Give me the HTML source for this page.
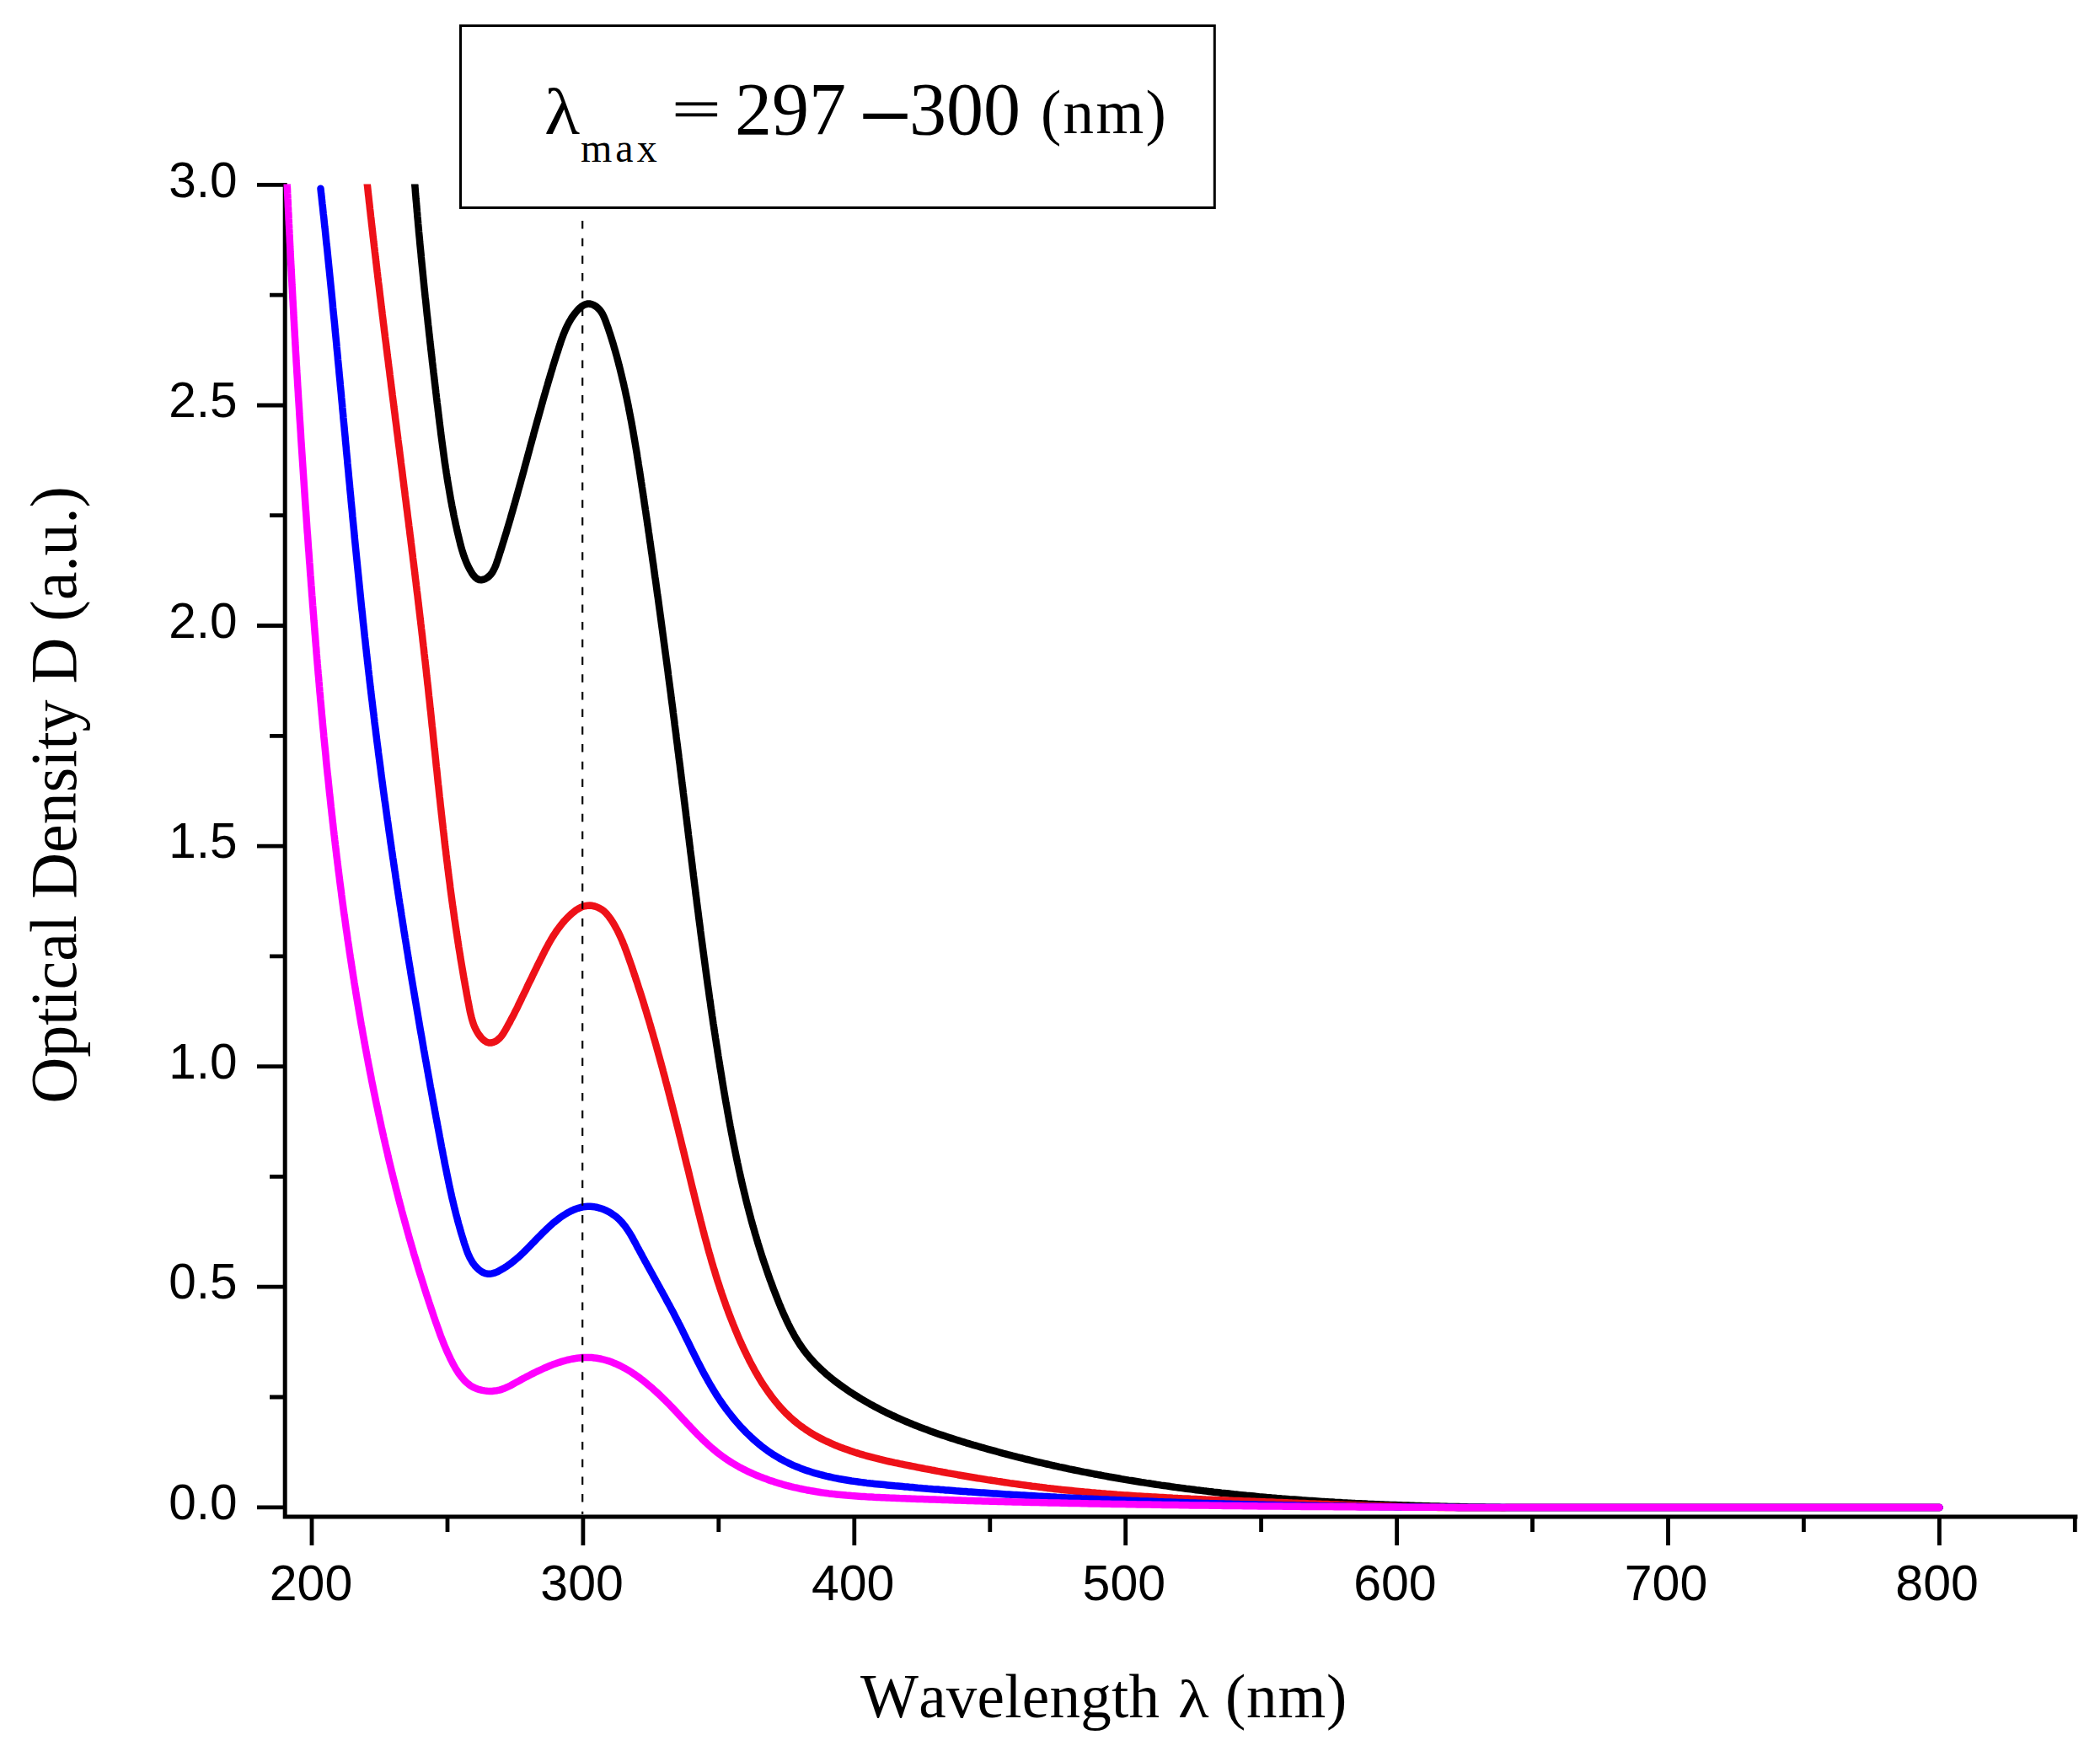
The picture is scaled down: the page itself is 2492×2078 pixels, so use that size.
<!DOCTYPE html>
<html lang="en"><head><meta charset="utf-8"><title>UV-Vis absorption spectra</title>
<style>html,body{margin:0;padding:0;background:#fff}svg{display:block}</style></head>
<body>
<svg role="img" aria-label="UV-Vis absorption spectra, optical density versus wavelength" width="2492" height="2078" viewBox="0 0 2492 2078">
<defs><clipPath id="c"><rect x="330" y="218.5" width="1980" height="1600"/></clipPath></defs>
<rect width="2492" height="2078" fill="#fff"/>
<g stroke="#000" fill="none">
<path d="M338.2 217V1802.5M336 1800H2465.4" stroke-width="5"/>
<path d="M305 219.4H338M320 350.2H338M305 481.0H338M320 611.7H338M305 742.5H338M320 873.3H338M305 1004.1H338M320 1134.9H338M305 1265.6H338M320 1396.4H338M305 1527.2H338M320 1658.0H338M305 1788.8H338M370.0 1800V1834M531.0 1800V1818M691.9 1800V1834M852.8 1800V1818M1013.8 1800V1834M1174.8 1800V1818M1335.7 1800V1834M1496.6 1800V1818M1657.6 1800V1834M1818.5 1800V1818M1979.5 1800V1834M2140.4 1800V1818M2301.4 1800V1834M2462.3 1800V1818" stroke-width="4.8"/>
</g>
<path d="M491.2 206.2L491.5 209.2L491.7 212.2L491.9 215.2L492.2 218.2L492.4 221.2L492.7 224.2L492.9 227.2L493.1 230.2L493.4 233.2L493.6 236.2L493.9 239.2L494.2 242.2L494.4 245.2L494.7 248.1L494.9 251.1L495.2 254.1L495.4 257.1L495.7 260.1L496 263.1L496.2 266.1L496.5 269.1L496.8 272.1L497 275.1L497.3 278L497.6 281L497.9 284L498.1 287L498.4 290L498.7 293L499 296L499.3 299L499.6 301.9L499.8 304.9L500.1 307.9L500.4 310.9L500.7 313.9L501 316.9L501.3 319.9L501.6 322.8L501.9 325.8L502.2 328.8L502.5 331.8L502.8 334.8L503.1 337.8L503.4 340.8L503.7 343.7L504 346.7L504.3 349.7L504.6 352.7L505 355.7L505.3 358.7L505.6 361.6L505.9 364.6L506.2 367.6L506.5 370.6L506.8 373.6L507.2 376.6L507.5 379.5L507.8 382.5L508.1 385.5L508.5 388.5L508.8 391.5L509.1 394.5L509.4 397.4L509.8 400.4L510.1 403.4L510.4 406.4L510.8 409.4L511.1 412.3L511.4 415.3L511.8 418.3L512.1 421.3L512.5 424.3L512.8 427.3L513.1 430.2L513.5 433.2L513.8 436.2L514.2 439.2L514.5 442.2L514.9 445.2L515.2 448.1L515.6 451.1L515.9 454.1L516.3 457.1L516.6 460.1L517 463L517.3 466L517.7 469L518 472L518.4 475L518.7 478L519.1 480.9L519.5 483.9L519.8 486.9L520.2 489.9L520.5 492.9L520.9 495.9L521.3 498.8L521.6 501.8L522 504.8L522.4 507.8L522.8 510.8L523.1 513.8L523.5 516.7L523.9 519.7L524.3 522.7L524.7 525.7L525.1 528.7L525.5 531.6L525.9 534.6L526.3 537.6L526.7 540.6L527.1 543.5L527.5 546.5L527.9 549.5L528.4 552.5L528.8 555.4L529.3 558.4L529.7 561.4L530.2 564.3L530.6 567.3L531.1 570.2L531.6 573.2L532.1 576.2L532.6 579.1L533.1 582.1L533.6 585L534.1 588L534.6 590.9L535.1 593.9L535.7 596.8L536.2 599.8L536.8 602.7L537.4 605.6L538 608.6L538.5 611.5L539.1 614.4L539.8 617.4L540.4 620.3L541 623.2L541.7 626.1L542.3 629L543 631.9L543.7 634.9L544.4 637.8L545.1 640.7L545.8 643.6L546.5 646.5L547.3 649.4L548.1 652.2L549 655.1L549.9 658L550.9 660.9L552 663.7L553.1 666.6L554.3 669.4L555.7 672.3L557.1 675.1L558.7 677.9L560.4 680.7L562.2 683.2L564.2 685.4L566.4 687L568.7 688L571.1 688.2L573.6 687.8L576 686.8L578.4 685.4L580.6 683.6L582.6 681.5L584.3 679.2L585.7 676.7L587 674L588.2 671.3L589.2 668.4L590.2 665.5L591.2 662.6L592.1 659.7L593 656.7L594 653.8L594.9 650.9L595.8 648L596.7 645.1L597.6 642.2L598.5 639.2L599.4 636.3L600.3 633.4L601.2 630.5L602 627.6L602.9 624.7L603.8 621.8L604.6 618.9L605.5 616L606.3 613.1L607.1 610.2L608 607.3L608.8 604.4L609.6 601.5L610.5 598.6L611.3 595.7L612.1 592.8L612.9 589.9L613.7 587L614.5 584.1L615.3 581.2L616.1 578.4L616.9 575.5L617.7 572.6L618.5 569.7L619.3 566.8L620.1 563.9L620.9 561L621.7 558.2L622.4 555.3L623.2 552.4L624 549.5L624.8 546.6L625.6 543.7L626.3 540.9L627.1 538L627.9 535.1L628.7 532.2L629.4 529.3L630.2 526.5L631 523.6L631.8 520.7L632.6 517.8L633.3 514.9L634.1 512.1L634.9 509.2L635.7 506.3L636.5 503.4L637.3 500.5L638.1 497.7L638.9 494.8L639.7 491.9L640.5 489L641.3 486.2L642.1 483.3L642.9 480.4L643.7 477.5L644.5 474.7L645.3 471.8L646.1 468.9L647 466L647.8 463.1L648.6 460.3L649.5 457.4L650.3 454.5L651.2 451.6L652 448.7L652.9 445.9L653.7 443L654.6 440.1L655.5 437.2L656.3 434.3L657.2 431.5L658.1 428.6L659 425.7L659.9 422.8L660.8 419.9L661.8 417L662.7 414.2L663.6 411.3L664.6 408.4L665.5 405.5L666.5 402.6L667.6 399.8L668.6 397L669.8 394.2L670.9 391.4L672.2 388.6L673.5 385.9L674.9 383.2L676.4 380.6L677.9 378L679.6 375.5L681.4 373L683.3 370.6L685.3 368.2L687.4 366L689.6 364.1L692 362.5L694.4 361.3L696.9 360.6L699.5 360.5L702.2 361.1L704.8 362.2L707.4 363.7L709.7 365.7L711.9 368L713.7 370.5L715.3 373.2L716.6 376L717.8 378.8L718.9 381.7L719.9 384.6L721 387.5L722 390.4L722.9 393.2L723.9 396.1L724.8 399L725.7 401.8L726.6 404.7L727.5 407.6L728.3 410.4L729.1 413.3L730 416.2L730.8 419.1L731.6 421.9L732.4 424.8L733.1 427.7L733.9 430.6L734.6 433.5L735.4 436.4L736.1 439.3L736.8 442.2L737.5 445.1L738.2 448L738.9 450.9L739.6 453.8L740.3 456.8L740.9 459.7L741.6 462.6L742.2 465.5L742.8 468.5L743.5 471.4L744.1 474.3L744.7 477.3L745.3 480.2L745.9 483.1L746.4 486.1L747 489L747.6 492L748.1 494.9L748.7 497.8L749.3 500.8L749.8 503.7L750.3 506.7L750.9 509.7L751.4 512.6L751.9 515.6L752.4 518.5L752.9 521.5L753.4 524.4L753.9 527.4L754.4 530.4L754.9 533.3L755.4 536.3L755.9 539.3L756.3 542.2L756.8 545.2L757.3 548.2L757.7 551.1L758.2 554.1L758.7 557.1L759.1 560L759.6 563L760 566L760.5 569L760.9 571.9L761.4 574.9L761.8 577.9L762.3 580.9L762.7 583.8L763.2 586.8L763.6 589.8L764.1 592.7L764.5 595.7L764.9 598.7L765.4 601.7L765.8 604.6L766.3 607.6L766.7 610.6L767.1 613.5L767.6 616.5L768 619.5L768.4 622.5L768.9 625.4L769.3 628.4L769.7 631.4L770.2 634.4L770.6 637.3L771 640.3L771.4 643.3L771.9 646.2L772.3 649.2L772.7 652.2L773.1 655.2L773.6 658.1L774 661.1L774.4 664.1L774.8 667L775.3 670L775.7 673L776.1 676L776.5 678.9L776.9 681.9L777.3 684.9L777.8 687.9L778.2 690.8L778.6 693.8L779 696.8L779.4 699.7L779.8 702.7L780.2 705.7L780.7 708.7L781.1 711.6L781.5 714.6L781.9 717.6L782.3 720.6L782.7 723.5L783.1 726.5L783.5 729.5L783.9 732.4L784.3 735.4L784.7 738.4L785.1 741.4L785.5 744.3L785.9 747.3L786.3 750.3L786.7 753.3L787.1 756.2L787.5 759.2L787.9 762.2L788.3 765.1L788.7 768.1L789.1 771.1L789.5 774.1L789.9 777L790.3 780L790.7 783L791.1 786L791.5 788.9L791.9 791.9L792.3 794.9L792.7 797.9L793 800.8L793.4 803.8L793.8 806.8L794.2 809.8L794.6 812.7L795 815.7L795.4 818.7L795.8 821.7L796.2 824.6L796.5 827.6L796.9 830.6L797.3 833.6L797.7 836.5L798.1 839.5L798.5 842.5L798.8 845.5L799.2 848.4L799.6 851.4L800 854.4L800.4 857.4L800.7 860.3L801.1 863.3L801.5 866.3L801.9 869.3L802.3 872.2L802.6 875.2L803 878.2L803.4 881.2L803.8 884.1L804.1 887.1L804.5 890.1L804.9 893.1L805.3 896L805.6 899L806 902L806.4 905L806.8 907.9L807.1 910.9L807.5 913.9L807.9 916.9L808.2 919.9L808.6 922.8L809 925.8L809.3 928.8L809.7 931.8L810.1 934.7L810.5 937.7L810.8 940.7L811.2 943.7L811.6 946.7L811.9 949.6L812.3 952.6L812.7 955.6L813 958.6L813.4 961.5L813.8 964.5L814.1 967.5L814.5 970.5L814.9 973.5L815.2 976.4L815.6 979.4L816 982.4L816.3 985.4L816.7 988.4L817 991.3L817.4 994.3L817.8 997.3L818.1 1000.3L818.5 1003.3L818.9 1006.2L819.2 1009.2L819.6 1012.2L820 1015.2L820.4 1018.1L820.7 1021.1L821.1 1024.1L821.5 1027.1L821.8 1030.1L822.2 1033L822.6 1036L822.9 1039L823.3 1042L823.7 1045L824 1047.9L824.4 1050.9L824.8 1053.9L825.2 1056.9L825.5 1059.9L825.9 1062.8L826.3 1065.8L826.7 1068.8L827 1071.8L827.4 1074.7L827.8 1077.7L828.2 1080.7L828.6 1083.7L828.9 1086.7L829.3 1089.6L829.7 1092.6L830.1 1095.6L830.5 1098.6L830.9 1101.5L831.2 1104.5L831.6 1107.5L832 1110.5L832.4 1113.5L832.8 1116.4L833.2 1119.4L833.6 1122.4L834 1125.4L834.4 1128.3L834.8 1131.3L835.2 1134.3L835.6 1137.3L836 1140.2L836.4 1143.2L836.8 1146.2L837.2 1149.2L837.6 1152.1L838 1155.1L838.4 1158.1L838.8 1161.1L839.2 1164L839.6 1167L840 1170L840.5 1173L840.9 1175.9L841.3 1178.9L841.7 1181.9L842.1 1184.9L842.6 1187.8L843 1190.8L843.4 1193.8L843.8 1196.7L844.3 1199.7L844.7 1202.7L845.1 1205.6L845.6 1208.6L846 1211.6L846.4 1214.6L846.9 1217.5L847.3 1220.5L847.8 1223.5L848.2 1226.4L848.7 1229.4L849.1 1232.4L849.6 1235.3L850 1238.3L850.5 1241.3L851 1244.2L851.4 1247.2L851.9 1250.2L852.3 1253.1L852.8 1256.1L853.3 1259.1L853.8 1262L854.2 1265L854.7 1268L855.2 1270.9L855.7 1273.9L856.2 1276.9L856.6 1279.8L857.1 1282.8L857.6 1285.7L858.1 1288.7L858.6 1291.7L859.1 1294.6L859.6 1297.6L860.1 1300.5L860.6 1303.5L861.1 1306.5L861.6 1309.4L862.2 1312.4L862.7 1315.3L863.2 1318.3L863.7 1321.2L864.3 1324.2L864.8 1327.1L865.3 1330.1L865.9 1333L866.4 1336L867 1338.9L867.5 1341.9L868.1 1344.8L868.7 1347.8L869.2 1350.7L869.8 1353.7L870.4 1356.6L871 1359.6L871.6 1362.5L872.2 1365.5L872.8 1368.4L873.4 1371.3L874 1374.3L874.6 1377.2L875.2 1380.1L875.9 1383.1L876.5 1386L877.1 1388.9L877.8 1391.9L878.4 1394.8L879.1 1397.7L879.7 1400.6L880.4 1403.5L881.1 1406.5L881.8 1409.4L882.5 1412.3L883.2 1415.2L883.9 1418.1L884.6 1421L885.3 1423.9L886 1426.9L886.8 1429.8L887.5 1432.7L888.3 1435.6L889 1438.5L889.8 1441.4L890.6 1444.3L891.3 1447.1L892.1 1450L892.9 1452.9L893.7 1455.8L894.6 1458.7L895.4 1461.6L896.2 1464.5L897.1 1467.3L897.9 1470.2L898.8 1473.1L899.6 1475.9L900.5 1478.8L901.4 1481.7L902.3 1484.5L903.2 1487.4L904.1 1490.3L905 1493.1L906 1496L906.9 1498.8L907.9 1501.7L908.9 1504.5L909.8 1507.3L910.8 1510.2L911.8 1513L912.8 1515.9L913.8 1518.7L914.9 1521.5L915.9 1524.3L917 1527.2L918 1530L919.1 1532.8L920.2 1535.6L921.3 1538.4L922.4 1541.2L923.5 1544L924.6 1546.8L925.8 1549.6L926.9 1552.4L928.1 1555.2L929.3 1557.9L930.5 1560.7L931.8 1563.4L933 1566.2L934.3 1568.9L935.6 1571.6L937 1574.3L938.3 1577L939.7 1579.6L941.2 1582.2L942.6 1584.8L944.1 1587.4L945.7 1590L947.2 1592.5L948.8 1595L950.5 1597.5L952.2 1599.9L953.9 1602.4L955.7 1604.7L957.6 1607.1L959.5 1609.4L961.4 1611.7L963.4 1613.9L965.4 1616.1L967.4 1618.3L969.5 1620.4L971.7 1622.5L973.9 1624.6L976.1 1626.7L978.3 1628.7L980.6 1630.7L982.9 1632.6L985.2 1634.6L987.6 1636.5L989.9 1638.3L992.3 1640.2L994.8 1642L997.2 1643.8L999.6 1645.5L1002.1 1647.3L1004.6 1649L1007.1 1650.7L1009.6 1652.4L1012.1 1654L1014.6 1655.6L1017.2 1657.2L1019.7 1658.8L1022.3 1660.4L1024.9 1661.9L1027.5 1663.4L1030.1 1664.9L1032.7 1666.4L1035.3 1667.8L1037.9 1669.2L1040.5 1670.6L1043.2 1672L1045.9 1673.4L1048.5 1674.7L1051.2 1676.1L1053.9 1677.4L1056.6 1678.7L1059.3 1680L1062 1681.2L1064.7 1682.5L1067.5 1683.7L1070.2 1684.9L1073 1686.1L1075.7 1687.2L1078.5 1688.4L1081.2 1689.5L1084 1690.7L1086.8 1691.8L1089.6 1692.9L1092.4 1694L1095.2 1695L1098 1696.1L1100.8 1697.1L1103.6 1698.2L1106.5 1699.2L1109.3 1700.2L1112.1 1701.2L1115 1702.2L1117.8 1703.1L1120.7 1704.1L1123.5 1705L1126.4 1706L1129.2 1706.9L1132.1 1707.8L1135 1708.7L1137.8 1709.6L1140.7 1710.5L1143.6 1711.4L1146.5 1712.3L1149.4 1713.1L1152.2 1714L1155.1 1714.9L1158 1715.7L1160.9 1716.5L1163.8 1717.4L1166.7 1718.2L1169.6 1719L1172.5 1719.8L1175.4 1720.6L1178.3 1721.4L1181.2 1722.2L1184.1 1723L1187 1723.8L1189.9 1724.6L1192.8 1725.3L1195.7 1726.1L1198.6 1726.8L1201.5 1727.6L1204.4 1728.3L1207.3 1729.1L1210.2 1729.8L1213.2 1730.5L1216.1 1731.3L1219 1732L1221.9 1732.7L1224.8 1733.4L1227.7 1734.1L1230.7 1734.8L1233.6 1735.5L1236.5 1736.1L1239.4 1736.8L1242.3 1737.5L1245.3 1738.2L1248.2 1738.8L1251.1 1739.5L1254.1 1740.1L1257 1740.8L1259.9 1741.4L1262.8 1742L1265.8 1742.6L1268.7 1743.3L1271.6 1743.9L1274.6 1744.5L1277.5 1745.1L1280.5 1745.7L1283.4 1746.3L1286.3 1746.9L1289.3 1747.4L1292.2 1748L1295.2 1748.6L1298.1 1749.2L1301.1 1749.7L1304 1750.3L1306.9 1750.8L1309.9 1751.4L1312.8 1751.9L1315.8 1752.5L1318.7 1753L1321.7 1753.5L1324.6 1754L1327.6 1754.5L1330.6 1755.1L1333.5 1755.6L1336.5 1756.1L1339.4 1756.6L1342.4 1757L1345.3 1757.5L1348.3 1758L1351.3 1758.5L1354.2 1759L1357.2 1759.4L1360.1 1759.9L1363.1 1760.3L1366.1 1760.8L1369 1761.2L1372 1761.7L1375 1762.1L1377.9 1762.6L1380.9 1763L1383.9 1763.4L1386.8 1763.8L1389.8 1764.3L1392.8 1764.7L1395.8 1765.1L1398.7 1765.5L1401.7 1765.9L1404.7 1766.3L1407.6 1766.7L1410.6 1767L1413.6 1767.4L1416.6 1767.8L1419.5 1768.2L1422.5 1768.5L1425.5 1768.9L1428.5 1769.3L1431.5 1769.6L1434.4 1770L1437.4 1770.3L1440.4 1770.7L1443.4 1771L1446.4 1771.3L1449.4 1771.7L1452.3 1772L1455.3 1772.3L1458.3 1772.6L1461.3 1772.9L1464.3 1773.3L1467.3 1773.6L1470.2 1773.9L1473.2 1774.2L1476.2 1774.5L1479.2 1774.8L1482.2 1775L1485.2 1775.3L1488.2 1775.6L1491.2 1775.9L1494.2 1776.2L1497.1 1776.4L1500.1 1776.7L1503.1 1777L1506.1 1777.2L1509.1 1777.5L1512.1 1777.7L1515.1 1778L1518.1 1778.2L1521.1 1778.5L1524.1 1778.7L1527.1 1778.9L1530.1 1779.2L1533.1 1779.4L1536.1 1779.6L1539.1 1779.8L1542 1780L1545 1780.3L1548 1780.5L1551 1780.7L1554 1780.9L1557 1781.1L1560 1781.3L1563 1781.5L1566 1781.7L1569 1781.9L1572 1782.1L1575 1782.2L1578 1782.4L1581 1782.6L1584 1782.8L1587 1782.9L1590 1783.1L1593 1783.3L1596 1783.4L1599 1783.6L1602 1783.7L1605 1783.9L1608 1784.1L1611 1784.2L1614 1784.3L1617 1784.5L1620 1784.6L1623 1784.8L1626 1784.9L1629 1785L1632 1785.2L1635 1785.3L1638 1785.4L1641 1785.5L1644 1785.7L1647 1785.8L1650 1785.9L1653 1786L1656 1786.1L1659.1 1786.2L1662.1 1786.3L1665.1 1786.4L1668.1 1786.5L1671.1 1786.6L1674.1 1786.7L1677.1 1786.8L1680.1 1786.9L1683.1 1787L1686.1 1787.1L1689.1 1787.2L1692.1 1787.2L1695.1 1787.3L1698.1 1787.4L1701.1 1787.5L1704.1 1787.6L1707.1 1787.6L1710.1 1787.7L1713.1 1787.8L1716.1 1787.8L1719.1 1787.9L1722.1 1788L1725.1 1788L1728.1 1788.1L1731.1 1788.1L1734.1 1788.2L1737.1 1788.2L1740.1 1788.3L1743.1 1788.4L1746.1 1788.4L1749.1 1788.4L1752.1 1788.5L1755.1 1788.5L1758.1 1788.6L1761.1 1788.6L1764.1 1788.7L1767.1 1788.7L1770.1 1788.7L1773 1788.8L1776 1788.8L1779 1788.8L1782 1788.9L1785 1788.9L1788 1788.9L1791 1788.9L1794 1789L1797 1789L1800 1789L2301.5 1789" fill="none" stroke="#000000" stroke-width="8.5" stroke-linejoin="round" stroke-linecap="round" clip-path="url(#c)"/>
<path d="M434.5 206.3L434.8 209.3L435.1 212.3L435.4 215.2L435.7 218.2L436.1 221.2L436.4 224.2L436.7 227.2L437 230.1L437.4 233.1L437.7 236.1L438 239.1L438.4 242.1L438.7 245L439 248L439.4 251L439.7 254L440 257L440.4 259.9L440.7 262.9L441 265.9L441.4 268.9L441.7 271.9L442.1 274.8L442.4 277.8L442.7 280.8L443.1 283.8L443.4 286.8L443.8 289.8L444.1 292.7L444.5 295.7L444.8 298.7L445.2 301.7L445.5 304.7L445.9 307.6L446.2 310.6L446.6 313.6L446.9 316.6L447.3 319.6L447.6 322.5L448 325.5L448.3 328.5L448.7 331.5L449 334.5L449.4 337.4L449.8 340.4L450.1 343.4L450.5 346.4L450.8 349.4L451.2 352.3L451.6 355.3L451.9 358.3L452.3 361.3L452.6 364.3L453 367.2L453.4 370.2L453.7 373.2L454.1 376.2L454.5 379.2L454.8 382.1L455.2 385.1L455.6 388.1L455.9 391.1L456.3 394.1L456.7 397L457 400L457.4 403L457.8 406L458.2 409L458.5 411.9L458.9 414.9L459.3 417.9L459.6 420.9L460 423.8L460.4 426.8L460.8 429.8L461.1 432.8L461.5 435.8L461.9 438.7L462.3 441.7L462.6 444.7L463 447.7L463.4 450.7L463.8 453.6L464.1 456.6L464.5 459.6L464.9 462.6L465.3 465.6L465.6 468.5L466 471.5L466.4 474.5L466.8 477.5L467.2 480.5L467.5 483.4L467.9 486.4L468.3 489.4L468.7 492.4L469 495.4L469.4 498.3L469.8 501.3L470.2 504.3L470.6 507.3L470.9 510.3L471.3 513.2L471.7 516.2L472.1 519.2L472.4 522.2L472.8 525.2L473.2 528.1L473.6 531.1L474 534.1L474.3 537.1L474.7 540.1L475.1 543L475.5 546L475.8 549L476.2 552L476.6 554.9L477 557.9L477.4 560.9L477.7 563.9L478.1 566.9L478.5 569.8L478.9 572.8L479.2 575.8L479.6 578.8L480 581.8L480.4 584.7L480.7 587.7L481.1 590.7L481.5 593.7L481.9 596.7L482.2 599.6L482.6 602.6L483 605.6L483.4 608.6L483.7 611.6L484.1 614.5L484.5 617.5L484.9 620.5L485.2 623.5L485.6 626.5L486 629.4L486.3 632.4L486.7 635.4L487.1 638.4L487.5 641.4L487.8 644.3L488.2 647.3L488.6 650.3L488.9 653.3L489.3 656.3L489.7 659.2L490 662.2L490.4 665.2L490.8 668.2L491.1 671.2L491.5 674.1L491.9 677.1L492.2 680.1L492.6 683.1L492.9 686.1L493.3 689L493.7 692L494 695L494.4 698L494.7 701L495.1 703.9L495.5 706.9L495.8 709.9L496.2 712.9L496.5 715.9L496.9 718.8L497.2 721.8L497.6 724.8L497.9 727.8L498.3 730.8L498.6 733.8L499 736.7L499.3 739.7L499.7 742.7L500 745.7L500.4 748.7L500.7 751.6L501.1 754.6L501.4 757.6L501.7 760.6L502.1 763.6L502.4 766.5L502.8 769.5L503.1 772.5L503.4 775.5L503.8 778.5L504.1 781.5L504.5 784.4L504.8 787.4L505.1 790.4L505.5 793.4L505.8 796.4L506.1 799.3L506.4 802.3L506.8 805.3L507.1 808.3L507.4 811.3L507.8 814.2L508.1 817.2L508.4 820.2L508.7 823.2L509 826.2L509.4 829.2L509.7 832.1L510 835.1L510.3 838.1L510.6 841.1L511 844.1L511.3 847.1L511.6 850L511.9 853L512.2 856L512.5 859L512.8 862L513.2 864.9L513.5 867.9L513.8 870.9L514.1 873.9L514.4 876.9L514.7 879.9L515 882.8L515.3 885.8L515.6 888.8L516 891.8L516.3 894.8L516.6 897.7L516.9 900.7L517.2 903.7L517.5 906.7L517.8 909.7L518.2 912.7L518.5 915.6L518.8 918.6L519.1 921.6L519.4 924.6L519.7 927.6L520 930.5L520.4 933.5L520.7 936.5L521 939.5L521.3 942.5L521.6 945.5L522 948.4L522.3 951.4L522.6 954.4L522.9 957.4L523.3 960.4L523.6 963.3L523.9 966.3L524.3 969.3L524.6 972.3L524.9 975.3L525.3 978.2L525.6 981.2L525.9 984.2L526.3 987.2L526.6 990.2L527 993.1L527.3 996.1L527.6 999.1L528 1002.1L528.3 1005.1L528.7 1008L529.1 1011L529.4 1014L529.8 1017L530.1 1020L530.5 1022.9L530.9 1025.9L531.2 1028.9L531.6 1031.9L532 1034.8L532.3 1037.8L532.7 1040.8L533.1 1043.8L533.5 1046.8L533.9 1049.7L534.2 1052.7L534.6 1055.7L535 1058.7L535.4 1061.6L535.8 1064.6L536.2 1067.6L536.6 1070.6L537 1073.5L537.4 1076.5L537.9 1079.5L538.3 1082.5L538.7 1085.4L539.1 1088.4L539.5 1091.4L540 1094.4L540.4 1097.3L540.8 1100.3L541.3 1103.3L541.7 1106.3L542.2 1109.2L542.6 1112.2L543.1 1115.2L543.5 1118.2L544 1121.1L544.4 1124.1L544.9 1127.1L545.4 1130.1L545.9 1133L546.3 1136L546.8 1139L547.3 1141.9L547.8 1144.9L548.3 1147.9L548.8 1150.8L549.3 1153.8L549.8 1156.8L550.3 1159.8L550.8 1162.7L551.4 1165.7L551.9 1168.7L552.4 1171.6L553 1174.6L553.5 1177.6L554 1180.5L554.6 1183.5L555.1 1186.5L555.7 1189.4L556.3 1192.4L556.8 1195.4L557.4 1198.3L558 1201.3L558.7 1204.2L559.4 1207.1L560.2 1210L561.1 1212.9L562 1215.7L563.1 1218.5L564.4 1221.2L565.8 1223.9L567.3 1226.5L569.1 1229L571 1231.4L573.1 1233.6L575.4 1235.4L577.7 1236.7L580.2 1237.5L582.8 1237.5L585.4 1236.9L587.9 1235.8L590.3 1234.3L592.6 1232.3L594.7 1230L596.6 1227.4L598.3 1224.7L600 1221.9L601.6 1219L603.1 1216.2L604.7 1213.5L606.1 1210.7L607.5 1208L608.9 1205.4L610.3 1202.7L611.6 1200L613 1197.4L614.3 1194.8L615.5 1192.1L616.8 1189.5L618.1 1186.9L619.3 1184.2L620.6 1181.6L621.9 1178.9L623.2 1176.3L624.5 1173.6L625.7 1170.9L627 1168.2L628.3 1165.5L629.7 1162.8L631 1160.1L632.3 1157.3L633.6 1154.6L634.9 1151.9L636.3 1149.2L637.6 1146.4L638.9 1143.7L640.3 1141L641.6 1138.3L643 1135.6L644.3 1132.9L645.7 1130.2L647 1127.5L648.4 1124.9L649.9 1122.2L651.3 1119.6L652.8 1117L654.3 1114.4L655.8 1111.9L657.4 1109.4L659.1 1106.9L660.7 1104.4L662.5 1102L664.3 1099.6L666.1 1097.2L668 1094.9L670 1092.6L672.1 1090.4L674.2 1088.2L676.4 1086.1L678.7 1084L681.1 1082.1L683.5 1080.2L686.1 1078.6L688.7 1077.2L691.3 1076L694.1 1075.2L696.9 1074.7L699.8 1074.5L702.8 1074.8L705.7 1075.5L708.6 1076.5L711.4 1077.8L714.1 1079.4L716.5 1081.2L718.8 1083.3L720.8 1085.6L722.7 1087.9L724.5 1090.4L726.2 1093L727.8 1095.6L729.4 1098.2L730.8 1100.9L732.3 1103.5L733.6 1106.2L734.9 1108.9L736.2 1111.6L737.4 1114.4L738.6 1117.1L739.7 1119.9L740.9 1122.7L741.9 1125.4L743 1128.2L744 1131L745 1133.8L746 1136.7L747 1139.5L748 1142.3L749 1145.1L750 1148L750.9 1150.8L751.9 1153.6L752.8 1156.5L753.8 1159.3L754.7 1162.2L755.7 1165L756.6 1167.8L757.5 1170.7L758.4 1173.5L759.4 1176.4L760.3 1179.3L761.2 1182.1L762.1 1185L763 1187.8L763.9 1190.7L764.7 1193.6L765.6 1196.4L766.5 1199.3L767.4 1202.2L768.2 1205.1L769.1 1207.9L770 1210.8L770.8 1213.7L771.7 1216.6L772.5 1219.5L773.3 1222.4L774.2 1225.2L775 1228.1L775.8 1231L776.7 1233.9L777.5 1236.8L778.3 1239.7L779.1 1242.6L779.9 1245.5L780.7 1248.4L781.5 1251.3L782.3 1254.2L783.1 1257.1L783.9 1260L784.7 1262.9L785.5 1265.8L786.3 1268.7L787 1271.6L787.8 1274.5L788.6 1277.4L789.4 1280.4L790.1 1283.3L790.9 1286.2L791.7 1289.1L792.4 1292L793.2 1294.9L793.9 1297.8L794.7 1300.7L795.4 1303.7L796.2 1306.6L796.9 1309.5L797.7 1312.4L798.4 1315.3L799.1 1318.2L799.9 1321.2L800.6 1324.1L801.3 1327L802.1 1329.9L802.8 1332.8L803.5 1335.7L804.3 1338.7L805 1341.6L805.7 1344.5L806.4 1347.4L807.2 1350.3L807.9 1353.2L808.6 1356.2L809.3 1359.1L810 1362L810.8 1364.9L811.5 1367.8L812.2 1370.7L812.9 1373.7L813.6 1376.6L814.3 1379.5L815 1382.4L815.8 1385.3L816.5 1388.2L817.2 1391.1L817.9 1394L818.6 1396.9L819.3 1399.8L820 1402.8L820.7 1405.7L821.4 1408.6L822.1 1411.5L822.9 1414.4L823.6 1417.3L824.3 1420.2L825 1423.1L825.7 1426L826.4 1428.9L827.2 1431.8L827.9 1434.7L828.6 1437.5L829.3 1440.4L830.1 1443.3L830.8 1446.2L831.5 1449.1L832.3 1452L833 1454.9L833.8 1457.8L834.5 1460.6L835.3 1463.5L836 1466.4L836.8 1469.3L837.6 1472.2L838.4 1475L839.2 1477.9L839.9 1480.8L840.7 1483.7L841.5 1486.5L842.4 1489.4L843.2 1492.3L844 1495.1L844.8 1498L845.7 1500.9L846.5 1503.7L847.4 1506.6L848.3 1509.4L849.1 1512.3L850 1515.1L850.9 1518L851.8 1520.9L852.8 1523.7L853.7 1526.6L854.6 1529.4L855.6 1532.2L856.5 1535.1L857.5 1537.9L858.5 1540.8L859.5 1543.6L860.5 1546.4L861.5 1549.3L862.5 1552.1L863.6 1554.9L864.6 1557.8L865.7 1560.6L866.8 1563.4L867.9 1566.2L869 1569.1L870.1 1571.9L871.3 1574.7L872.4 1577.5L873.6 1580.3L874.8 1583.1L876 1586L877.2 1588.8L878.4 1591.6L879.7 1594.4L880.9 1597.2L882.2 1599.9L883.5 1602.7L884.9 1605.5L886.2 1608.3L887.6 1611L888.9 1613.8L890.3 1616.5L891.8 1619.2L893.2 1621.9L894.7 1624.6L896.1 1627.3L897.7 1629.9L899.2 1632.6L900.7 1635.2L902.3 1637.8L903.9 1640.4L905.5 1642.9L907.2 1645.4L908.9 1647.9L910.6 1650.4L912.3 1652.8L914.1 1655.3L915.9 1657.7L917.7 1660L919.5 1662.3L921.4 1664.6L923.3 1666.9L925.2 1669.1L927.2 1671.3L929.2 1673.5L931.2 1675.6L933.2 1677.7L935.3 1679.7L937.4 1681.7L939.6 1683.6L941.8 1685.6L944 1687.4L946.2 1689.2L948.5 1691L950.8 1692.8L953.2 1694.4L955.6 1696.1L958 1697.7L960.4 1699.3L962.9 1700.8L965.4 1702.3L967.9 1703.8L970.4 1705.2L973 1706.6L975.6 1707.9L978.2 1709.2L980.9 1710.5L983.6 1711.7L986.2 1712.9L989 1714.1L991.7 1715.3L994.4 1716.4L997.2 1717.5L1000 1718.5L1002.8 1719.6L1005.7 1720.6L1008.5 1721.6L1011.4 1722.5L1014.2 1723.5L1017.1 1724.4L1020 1725.3L1022.9 1726.1L1025.9 1727L1028.8 1727.8L1031.8 1728.6L1034.7 1729.4L1037.7 1730.2L1040.7 1730.9L1043.6 1731.7L1046.6 1732.4L1049.6 1733.1L1052.6 1733.8L1055.6 1734.5L1058.6 1735.1L1061.7 1735.8L1064.7 1736.4L1067.7 1737.1L1070.7 1737.7L1073.7 1738.3L1076.7 1738.9L1079.8 1739.5L1082.8 1740.1L1085.8 1740.7L1088.8 1741.3L1091.8 1741.9L1094.8 1742.5L1097.8 1743.1L1100.8 1743.6L1103.8 1744.2L1106.8 1744.8L1109.7 1745.3L1112.7 1745.9L1115.7 1746.4L1118.7 1747L1121.7 1747.5L1124.6 1748.1L1127.6 1748.6L1130.6 1749.1L1133.5 1749.6L1136.5 1750.2L1139.5 1750.7L1142.4 1751.2L1145.4 1751.7L1148.3 1752.2L1151.3 1752.7L1154.2 1753.2L1157.2 1753.7L1160.1 1754.2L1163.1 1754.6L1166 1755.1L1169 1755.6L1171.9 1756.1L1174.9 1756.5L1177.8 1757L1180.8 1757.4L1183.7 1757.9L1186.6 1758.3L1189.6 1758.8L1192.5 1759.2L1195.5 1759.6L1198.4 1760.1L1201.3 1760.5L1204.3 1760.9L1207.2 1761.3L1210.1 1761.7L1213.1 1762.1L1216 1762.5L1219 1762.9L1221.9 1763.3L1224.8 1763.7L1227.8 1764L1230.7 1764.4L1233.7 1764.8L1236.6 1765.1L1239.6 1765.5L1242.5 1765.9L1245.4 1766.2L1248.4 1766.6L1251.3 1766.9L1254.3 1767.2L1257.2 1767.6L1260.2 1767.9L1263.1 1768.2L1266.1 1768.5L1269.1 1768.8L1272 1769.1L1275 1769.4L1277.9 1769.7L1280.9 1770L1283.9 1770.3L1286.8 1770.6L1289.8 1770.8L1292.8 1771.1L1295.8 1771.4L1298.7 1771.6L1301.7 1771.9L1304.7 1772.1L1307.7 1772.4L1310.7 1772.6L1313.7 1772.9L1316.6 1773.1L1319.6 1773.3L1322.6 1773.5L1325.6 1773.8L1328.6 1774L1331.6 1774.2L1334.6 1774.4L1337.6 1774.6L1340.6 1774.8L1343.6 1775L1346.6 1775.2L1349.6 1775.4L1352.6 1775.6L1355.6 1775.8L1358.6 1776L1361.6 1776.1L1364.6 1776.3L1367.6 1776.5L1370.6 1776.6L1373.6 1776.8L1376.7 1777L1379.7 1777.1L1382.7 1777.3L1385.7 1777.5L1388.7 1777.6L1391.7 1777.8L1394.7 1777.9L1397.7 1778.1L1400.8 1778.2L1403.8 1778.4L1406.8 1778.5L1409.8 1778.6L1412.8 1778.8L1415.8 1778.9L1418.8 1779L1421.9 1779.2L1424.9 1779.3L1427.9 1779.4L1430.9 1779.6L1433.9 1779.7L1436.9 1779.8L1440 1779.9L1443 1780.1L1446 1780.2L1449 1780.3L1452 1780.4L1455 1780.5L1458.1 1780.7L1461.1 1780.8L1464.1 1780.9L1467.1 1781L1470.1 1781.1L1473.1 1781.2L1476.1 1781.4L1479.2 1781.5L1482.2 1781.6L1485.2 1781.7L1488.2 1781.8L1491.2 1781.9L1494.2 1782L1497.2 1782.2L1500.2 1782.3L1503.2 1782.4L1506.2 1782.5L1509.2 1782.6L1512.2 1782.7L1515.2 1782.9L1518.2 1783L1521.2 1783.1L1524.2 1783.2L1527.2 1783.3L1530.2 1783.4L1533.2 1783.6L1536.2 1783.7L1539.2 1783.8L1542.2 1783.9L1545.2 1784L1548.2 1784.1L1551.2 1784.2L1554.2 1784.4L1557.2 1784.5L1560.2 1784.6L1563.2 1784.7L1566.2 1784.8L1569.2 1784.9L1572.2 1785L1575.1 1785.1L1578.1 1785.3L1581.1 1785.4L1584.1 1785.5L1587.1 1785.6L1590.1 1785.7L1593.1 1785.8L1596.1 1785.9L1599.1 1786L1602 1786.1L1605 1786.2L1608 1786.3L1611 1786.4L1614 1786.5L1617 1786.6L1620 1786.7L1623 1786.8L1625.9 1786.9L1628.9 1787L1631.9 1787.1L1634.9 1787.2L1637.9 1787.3L1640.9 1787.4L1643.9 1787.4L1646.9 1787.5L1649.8 1787.6L1652.8 1787.7L1655.8 1787.8L1658.8 1787.9L1661.8 1787.9L1664.8 1788L1667.8 1788.1L1670.8 1788.2L1673.8 1788.2L1676.7 1788.3L1679.7 1788.4L1682.7 1788.4L1685.7 1788.5L1688.7 1788.5L1691.7 1788.6L1694.7 1788.7L1697.7 1788.7L1700.7 1788.8L1703.7 1788.8L1706.7 1788.9L1709.7 1788.9L1712.7 1788.9L1715.7 1789L1718.7 1789L1721.7 1789.1L1724.7 1789.1L1727.7 1789.1L1730.7 1789.2L1733.7 1789.2L1736.7 1789.2L1739.7 1789.2L1742.7 1789.2L1745.7 1789.3L1748.7 1789.3L1751.7 1789.3L1754.7 1789.3L1757.7 1789.3L1760.7 1789.3L1763.8 1789.3L1766.8 1789.3L1769.8 1789.3L1772.8 1789.2L1775.8 1789.2L1778.8 1789.2L1781.9 1789.2L1784.9 1789.2L1787.9 1789.1L1790.9 1789.1L1794 1789.1L1797 1789L1800 1789L2301.5 1789" fill="none" stroke="#ee1118" stroke-width="8.5" stroke-linejoin="round" stroke-linecap="round" clip-path="url(#c)"/>
<path d="M380.5 223.8L380.8 226.8L381.1 229.8L381.5 232.8L381.8 235.8L382.1 238.7L382.4 241.7L382.8 244.7L383.1 247.7L383.4 250.7L383.7 253.7L384.1 256.7L384.4 259.7L384.7 262.7L385 265.6L385.3 268.6L385.7 271.6L386 274.6L386.3 277.6L386.6 280.6L386.9 283.6L387.2 286.6L387.5 289.6L387.9 292.5L388.2 295.5L388.5 298.5L388.8 301.5L389.1 304.5L389.4 307.5L389.7 310.5L390 313.5L390.3 316.5L390.6 319.4L390.9 322.4L391.2 325.4L391.5 328.4L391.8 331.4L392.1 334.4L392.4 337.4L392.7 340.4L393 343.4L393.3 346.3L393.6 349.3L393.9 352.3L394.2 355.3L394.5 358.3L394.8 361.3L395 364.3L395.3 367.3L395.6 370.3L395.9 373.3L396.2 376.2L396.5 379.2L396.8 382.2L397.1 385.2L397.4 388.2L397.6 391.2L397.9 394.2L398.2 397.2L398.5 400.2L398.8 403.1L399.1 406.1L399.4 409.1L399.6 412.1L399.9 415.1L400.2 418.1L400.5 421.1L400.8 424.1L401 427.1L401.3 430L401.6 433L401.9 436L402.2 439L402.4 442L402.7 445L403 448L403.3 451L403.6 454L403.8 456.9L404.1 459.9L404.4 462.9L404.7 465.9L405 468.9L405.2 471.9L405.5 474.9L405.8 477.9L406.1 480.9L406.3 483.8L406.6 486.8L406.9 489.8L407.2 492.8L407.4 495.8L407.7 498.8L408 501.8L408.3 504.8L408.6 507.8L408.8 510.7L409.1 513.7L409.4 516.7L409.7 519.7L409.9 522.7L410.2 525.7L410.5 528.7L410.8 531.7L411 534.7L411.3 537.6L411.6 540.6L411.9 543.6L412.2 546.6L412.4 549.6L412.7 552.6L413 555.6L413.3 558.6L413.6 561.6L413.8 564.5L414.1 567.5L414.4 570.5L414.7 573.5L415 576.5L415.2 579.5L415.5 582.5L415.8 585.5L416.1 588.4L416.4 591.4L416.6 594.4L416.9 597.4L417.2 600.4L417.5 603.4L417.8 606.4L418.1 609.4L418.3 612.4L418.6 615.3L418.9 618.3L419.2 621.3L419.5 624.3L419.8 627.3L420.1 630.3L420.4 633.3L420.6 636.3L420.9 639.2L421.2 642.2L421.5 645.2L421.8 648.2L422.1 651.2L422.4 654.2L422.7 657.2L423 660.2L423.3 663.1L423.6 666.1L423.9 669.1L424.2 672.1L424.5 675.1L424.8 678.1L425.1 681.1L425.4 684L425.7 687L426 690L426.3 693L426.6 696L426.9 699L427.2 702L427.5 705L427.8 707.9L428.1 710.9L428.4 713.9L428.7 716.9L429 719.9L429.3 722.9L429.7 725.9L430 728.8L430.3 731.8L430.6 734.8L430.9 737.8L431.2 740.8L431.6 743.8L431.9 746.8L432.2 749.7L432.5 752.7L432.8 755.7L433.2 758.7L433.5 761.7L433.8 764.7L434.1 767.7L434.5 770.6L434.8 773.6L435.1 776.6L435.5 779.6L435.8 782.6L436.1 785.6L436.5 788.6L436.8 791.5L437.1 794.5L437.5 797.5L437.8 800.5L438.2 803.5L438.5 806.5L438.8 809.4L439.2 812.4L439.5 815.4L439.9 818.4L440.2 821.4L440.6 824.4L440.9 827.4L441.3 830.3L441.7 833.3L442 836.3L442.4 839.3L442.7 842.3L443.1 845.3L443.5 848.2L443.8 851.2L444.2 854.2L444.5 857.2L444.9 860.2L445.3 863.2L445.7 866.1L446 869.1L446.4 872.1L446.8 875.1L447.1 878.1L447.5 881L447.9 884L448.3 887L448.7 890L449 893L449.4 896L449.8 898.9L450.2 901.9L450.6 904.9L451 907.9L451.4 910.9L451.8 913.8L452.1 916.8L452.5 919.8L452.9 922.8L453.3 925.8L453.7 928.7L454.1 931.7L454.5 934.7L454.9 937.7L455.3 940.7L455.7 943.6L456.1 946.6L456.5 949.6L457 952.6L457.4 955.6L457.8 958.5L458.2 961.5L458.6 964.5L459 967.5L459.4 970.4L459.8 973.4L460.3 976.4L460.7 979.4L461.1 982.4L461.5 985.3L461.9 988.3L462.4 991.3L462.8 994.3L463.2 997.2L463.6 1000.2L464.1 1003.2L464.5 1006.2L464.9 1009.1L465.4 1012.1L465.8 1015.1L466.2 1018.1L466.7 1021L467.1 1024L467.5 1027L468 1030L468.4 1032.9L468.9 1035.9L469.3 1038.9L469.7 1041.9L470.2 1044.8L470.6 1047.8L471.1 1050.8L471.5 1053.7L472 1056.7L472.4 1059.7L472.9 1062.7L473.3 1065.6L473.8 1068.6L474.2 1071.6L474.7 1074.5L475.2 1077.5L475.6 1080.5L476.1 1083.4L476.5 1086.4L477 1089.4L477.5 1092.4L477.9 1095.3L478.4 1098.3L478.9 1101.3L479.3 1104.2L479.8 1107.2L480.3 1110.2L480.7 1113.1L481.2 1116.1L481.7 1119.1L482.2 1122L482.6 1125L483.1 1128L483.6 1130.9L484.1 1133.9L484.5 1136.8L485 1139.8L485.5 1142.8L486 1145.7L486.5 1148.7L487 1151.7L487.4 1154.6L487.9 1157.6L488.4 1160.5L488.9 1163.5L489.4 1166.5L489.9 1169.4L490.4 1172.4L490.9 1175.3L491.4 1178.3L491.9 1181.3L492.4 1184.2L492.9 1187.2L493.4 1190.1L493.9 1193.1L494.4 1196.1L494.9 1199L495.4 1202L495.9 1204.9L496.4 1207.9L496.9 1210.8L497.4 1213.8L497.9 1216.7L498.4 1219.7L498.9 1222.7L499.4 1225.6L500 1228.6L500.5 1231.5L501 1234.5L501.5 1237.4L502 1240.4L502.5 1243.3L503 1246.3L503.6 1249.2L504.1 1252.2L504.6 1255.1L505.1 1258.1L505.7 1261L506.2 1264L506.7 1266.9L507.2 1269.9L507.8 1272.8L508.3 1275.8L508.8 1278.7L509.4 1281.7L509.9 1284.6L510.4 1287.6L510.9 1290.5L511.5 1293.4L512 1296.4L512.6 1299.3L513.1 1302.3L513.6 1305.2L514.2 1308.2L514.7 1311.1L515.3 1314L515.8 1317L516.3 1319.9L516.9 1322.9L517.4 1325.8L518 1328.7L518.5 1331.7L519.1 1334.6L519.6 1337.6L520.2 1340.5L520.7 1343.4L521.3 1346.4L521.8 1349.3L522.4 1352.2L522.9 1355.2L523.5 1358.1L524 1361L524.6 1364L525.2 1366.9L525.7 1369.8L526.3 1372.8L526.9 1375.7L527.4 1378.6L528 1381.6L528.6 1384.5L529.2 1387.4L529.8 1390.4L530.4 1393.3L531 1396.2L531.6 1399.2L532.2 1402.1L532.8 1405L533.4 1408L534.1 1410.9L534.7 1413.9L535.4 1416.8L536 1419.7L536.7 1422.7L537.4 1425.6L538.1 1428.5L538.8 1431.5L539.5 1434.4L540.3 1437.4L541 1440.3L541.8 1443.3L542.6 1446.2L543.3 1449.2L544.1 1452.1L545 1455.1L545.8 1458L546.6 1461L547.5 1463.9L548.4 1466.9L549.3 1469.8L550.2 1472.8L551.1 1475.8L552.1 1478.7L553.1 1481.6L554.1 1484.5L555.2 1487.4L556.4 1490.2L557.7 1492.9L559.2 1495.5L560.7 1498.1L562.4 1500.5L564.2 1502.8L566.2 1504.9L568.4 1506.9L570.7 1508.6L573.1 1510L575.7 1511.1L578.3 1511.7L581.1 1511.8L583.8 1511.4L586.6 1510.7L589.4 1509.6L592.1 1508.3L594.8 1506.8L597.4 1505.3L600 1503.7L602.5 1502L604.9 1500.3L607.3 1498.5L609.6 1496.6L611.9 1494.7L614.2 1492.8L616.4 1490.8L618.6 1488.8L620.8 1486.7L622.9 1484.7L625 1482.6L627.1 1480.4L629.2 1478.3L631.3 1476.1L633.4 1474L635.5 1471.8L637.6 1469.6L639.7 1467.5L641.9 1465.3L644 1463.1L646.2 1461L648.4 1458.9L650.6 1456.8L652.9 1454.7L655.2 1452.6L657.6 1450.6L660 1448.7L662.4 1446.7L664.9 1444.9L667.4 1443.1L670 1441.5L672.6 1439.9L675.2 1438.4L677.9 1437L680.6 1435.8L683.3 1434.7L686.1 1433.8L688.9 1433L691.7 1432.4L694.6 1432L697.5 1431.8L700.4 1431.8L703.3 1432L706.2 1432.4L709.1 1433L712 1433.8L714.9 1434.7L717.7 1435.9L720.5 1437.2L723.2 1438.6L725.8 1440.2L728.3 1441.9L730.8 1443.7L733 1445.7L735.2 1447.7L737.3 1449.9L739.2 1452.1L741.1 1454.4L742.9 1456.8L744.6 1459.3L746.2 1461.8L747.8 1464.3L749.4 1466.9L750.9 1469.6L752.3 1472.2L753.8 1474.9L755.2 1477.6L756.6 1480.3L758.1 1482.9L759.5 1485.6L761 1488.3L762.4 1491L763.9 1493.6L765.3 1496.3L766.8 1498.9L768.2 1501.6L769.7 1504.2L771.1 1506.8L772.6 1509.5L774.1 1512.1L775.5 1514.8L777 1517.4L778.4 1520L779.9 1522.6L781.3 1525.3L782.8 1527.9L784.2 1530.5L785.7 1533.1L787.1 1535.8L788.6 1538.4L790 1541L791.4 1543.7L792.8 1546.3L794.3 1548.9L795.7 1551.6L797.1 1554.2L798.5 1556.8L799.9 1559.5L801.2 1562.1L802.6 1564.8L804 1567.4L805.3 1570.1L806.7 1572.8L808 1575.4L809.4 1578.1L810.7 1580.8L812 1583.5L813.3 1586.2L814.6 1588.8L816 1591.5L817.3 1594.2L818.6 1596.9L819.9 1599.6L821.2 1602.3L822.6 1605L823.9 1607.6L825.2 1610.3L826.6 1613L827.9 1615.7L829.3 1618.3L830.7 1621L832 1623.6L833.4 1626.3L834.8 1628.9L836.3 1631.6L837.7 1634.2L839.2 1636.8L840.6 1639.4L842.1 1642L843.6 1644.6L845.2 1647.2L846.7 1649.8L848.3 1652.3L849.9 1654.9L851.5 1657.4L853.2 1660L854.9 1662.5L856.6 1665L858.3 1667.5L860.1 1669.9L861.9 1672.4L863.7 1674.8L865.6 1677.2L867.5 1679.6L869.4 1682L871.3 1684.4L873.3 1686.7L875.3 1689L877.3 1691.3L879.4 1693.6L881.5 1695.8L883.6 1698L885.7 1700.2L887.9 1702.3L890.1 1704.4L892.3 1706.5L894.5 1708.5L896.8 1710.5L899.1 1712.5L901.4 1714.4L903.7 1716.3L906.1 1718.1L908.5 1719.9L910.9 1721.7L913.3 1723.4L915.8 1725L918.3 1726.7L920.8 1728.2L923.3 1729.7L925.9 1731.2L928.5 1732.6L931.1 1734L933.7 1735.3L936.3 1736.6L939 1737.9L941.7 1739.1L944.4 1740.2L947.1 1741.3L949.8 1742.4L952.6 1743.4L955.3 1744.4L958.1 1745.4L960.9 1746.3L963.7 1747.2L966.5 1748.1L969.4 1748.9L972.2 1749.7L975.1 1750.4L978 1751.2L980.9 1751.9L983.8 1752.5L986.7 1753.2L989.6 1753.8L992.6 1754.4L995.5 1755L998.5 1755.5L1001.5 1756L1004.4 1756.5L1007.4 1757L1010.4 1757.5L1013.4 1757.9L1016.4 1758.3L1019.4 1758.7L1022.4 1759.1L1025.4 1759.5L1028.5 1759.9L1031.5 1760.2L1034.5 1760.6L1037.5 1760.9L1040.6 1761.2L1043.6 1761.5L1046.6 1761.8L1049.7 1762.1L1052.7 1762.4L1055.8 1762.7L1058.8 1763L1061.8 1763.3L1064.9 1763.5L1067.9 1763.8L1070.9 1764.1L1073.9 1764.4L1077 1764.6L1080 1764.9L1083 1765.1L1086 1765.4L1089.1 1765.7L1092.1 1765.9L1095.1 1766.2L1098.1 1766.4L1101.1 1766.7L1104.1 1766.9L1107.1 1767.2L1110.2 1767.4L1113.2 1767.6L1116.2 1767.9L1119.2 1768.1L1122.2 1768.4L1125.2 1768.6L1128.2 1768.8L1131.2 1769L1134.2 1769.3L1137.2 1769.5L1140.2 1769.7L1143.2 1769.9L1146.2 1770.1L1149.2 1770.4L1152.2 1770.6L1155.2 1770.8L1158.2 1771L1161.2 1771.2L1164.2 1771.4L1167.2 1771.6L1170.2 1771.8L1173.2 1772L1176.1 1772.2L1179.1 1772.4L1182.1 1772.6L1185.1 1772.8L1188.1 1773L1191.1 1773.2L1194.1 1773.4L1197.1 1773.5L1200.1 1773.7L1203 1773.9L1206 1774.1L1209 1774.3L1212 1774.5L1215 1774.6L1218 1774.8L1221 1775L1223.9 1775.1L1226.9 1775.3L1229.9 1775.5L1232.9 1775.7L1235.9 1775.8L1238.9 1776L1241.8 1776.1L1244.8 1776.3L1247.8 1776.5L1250.8 1776.6L1253.8 1776.8L1256.8 1776.9L1259.8 1777.1L1262.7 1777.2L1265.7 1777.4L1268.7 1777.5L1271.7 1777.7L1274.7 1777.8L1277.7 1778L1280.6 1778.1L1283.6 1778.3L1286.6 1778.4L1289.6 1778.6L1292.6 1778.7L1295.6 1778.8L1298.6 1779L1301.6 1779.1L1304.5 1779.2L1307.5 1779.4L1310.5 1779.5L1313.5 1779.6L1316.5 1779.8L1319.5 1779.9L1322.5 1780L1325.5 1780.2L1328.5 1780.3L1331.5 1780.4L1334.5 1780.5L1337.5 1780.7L1340.4 1780.8L1343.4 1780.9L1346.4 1781L1349.4 1781.1L1352.4 1781.3L1355.4 1781.4L1358.4 1781.5L1361.4 1781.6L1364.4 1781.7L1367.4 1781.8L1370.4 1781.9L1373.4 1782.1L1376.4 1782.2L1379.4 1782.3L1382.4 1782.4L1385.4 1782.5L1388.4 1782.6L1391.4 1782.7L1394.4 1782.8L1397.4 1782.9L1400.4 1783L1403.4 1783.1L1406.4 1783.2L1409.4 1783.3L1412.4 1783.4L1415.4 1783.5L1418.4 1783.6L1421.4 1783.7L1424.4 1783.8L1427.4 1783.9L1430.4 1784L1433.4 1784.1L1436.4 1784.2L1439.4 1784.2L1442.5 1784.3L1445.5 1784.4L1448.5 1784.5L1451.5 1784.6L1454.5 1784.7L1457.5 1784.8L1460.5 1784.8L1463.5 1784.9L1466.5 1785L1469.5 1785.1L1472.5 1785.2L1475.5 1785.2L1478.5 1785.3L1481.5 1785.4L1484.5 1785.5L1487.5 1785.5L1490.6 1785.6L1493.6 1785.7L1496.6 1785.8L1499.6 1785.8L1502.6 1785.9L1505.6 1786L1508.6 1786L1511.6 1786.1L1514.6 1786.2L1517.6 1786.2L1520.6 1786.3L1523.6 1786.4L1526.7 1786.4L1529.7 1786.5L1532.7 1786.5L1535.7 1786.6L1538.7 1786.7L1541.7 1786.7L1544.7 1786.8L1547.7 1786.8L1550.7 1786.9L1553.7 1786.9L1556.7 1787L1559.8 1787.1L1562.8 1787.1L1565.8 1787.2L1568.8 1787.2L1571.8 1787.3L1574.8 1787.3L1577.8 1787.4L1580.8 1787.4L1583.8 1787.5L1586.8 1787.5L1589.8 1787.5L1592.8 1787.6L1595.9 1787.6L1598.9 1787.7L1601.9 1787.7L1604.9 1787.8L1607.9 1787.8L1610.9 1787.8L1613.9 1787.9L1616.9 1787.9L1619.9 1788L1622.9 1788L1625.9 1788L1628.9 1788.1L1632 1788.1L1635 1788.1L1638 1788.2L1641 1788.2L1644 1788.2L1647 1788.3L1650 1788.3L1653 1788.3L1656 1788.4L1659 1788.4L1662 1788.4L1665 1788.4L1668 1788.5L1671 1788.5L1674 1788.5L1677 1788.5L1680.1 1788.6L1683.1 1788.6L1686.1 1788.6L1689.1 1788.6L1692.1 1788.7L1695.1 1788.7L1698.1 1788.7L1701.1 1788.7L1704.1 1788.7L1707.1 1788.7L1710.1 1788.8L1713.1 1788.8L1716.1 1788.8L1719.1 1788.8L1722.1 1788.8L1725.1 1788.8L1728.1 1788.9L1731.1 1788.9L1734.1 1788.9L1737.1 1788.9L1740.1 1788.9L1743.1 1788.9L1746.1 1788.9L1749.1 1788.9L1752.1 1788.9L1755.1 1788.9L1758.1 1789L1761.1 1789L1764.1 1789L1767.1 1789L1770.1 1789L1773.1 1789L1776.1 1789L1779 1789L1782 1789L1785 1789L1788 1789L1791 1789L1794 1789L1797 1789L1800 1789L2301.5 1789" fill="none" stroke="#0000ff" stroke-width="8.5" stroke-linejoin="round" stroke-linecap="round" clip-path="url(#c)"/>
<path d="M340.2 206L340.3 209L340.4 212L340.6 215L340.7 218L340.8 221L341 224L341.1 227L341.2 230L341.4 233L341.5 236L341.7 239L341.8 242L341.9 245L342.1 248L342.2 251L342.4 254L342.5 257L342.6 260L342.8 263L342.9 266L343.1 269L343.2 272L343.4 275L343.5 278L343.7 280.9L343.8 283.9L343.9 286.9L344.1 289.9L344.2 292.9L344.4 295.9L344.5 298.9L344.7 301.9L344.8 304.9L345 307.9L345.1 310.9L345.3 313.9L345.5 316.9L345.6 319.9L345.8 322.9L345.9 325.9L346.1 328.9L346.2 331.9L346.4 334.9L346.5 337.9L346.7 340.9L346.9 343.9L347 346.9L347.2 349.9L347.3 352.9L347.5 355.9L347.7 358.9L347.8 361.9L348 364.9L348.2 367.9L348.3 370.9L348.5 373.9L348.6 376.9L348.8 379.9L349 382.9L349.1 385.9L349.3 388.9L349.5 391.9L349.7 394.9L349.8 397.9L350 400.9L350.2 403.9L350.3 406.9L350.5 409.9L350.7 412.9L350.8 415.9L351 418.9L351.2 421.9L351.4 424.9L351.5 427.9L351.7 430.9L351.9 433.9L352.1 436.9L352.2 439.9L352.4 442.9L352.6 445.9L352.8 448.9L353 451.9L353.1 454.9L353.3 457.8L353.5 460.8L353.7 463.8L353.9 466.8L354 469.8L354.2 472.8L354.4 475.8L354.6 478.8L354.8 481.8L355 484.8L355.2 487.8L355.3 490.8L355.5 493.8L355.7 496.8L355.9 499.8L356.1 502.8L356.3 505.8L356.5 508.8L356.7 511.8L356.9 514.8L357 517.8L357.2 520.8L357.4 523.8L357.6 526.8L357.8 529.8L358 532.8L358.2 535.8L358.4 538.8L358.6 541.8L358.8 544.8L359 547.8L359.2 550.8L359.4 553.8L359.6 556.8L359.8 559.8L360 562.8L360.2 565.8L360.4 568.8L360.6 571.8L360.8 574.8L361 577.8L361.2 580.8L361.4 583.8L361.6 586.7L361.8 589.7L362 592.7L362.2 595.7L362.4 598.7L362.6 601.7L362.8 604.7L363.1 607.7L363.3 610.7L363.5 613.7L363.7 616.7L363.9 619.7L364.1 622.7L364.3 625.7L364.5 628.7L364.7 631.7L365 634.7L365.2 637.7L365.4 640.7L365.6 643.7L365.8 646.7L366 649.7L366.2 652.7L366.5 655.7L366.7 658.7L366.9 661.7L367.1 664.6L367.3 667.6L367.6 670.6L367.8 673.6L368 676.6L368.2 679.6L368.4 682.6L368.7 685.6L368.9 688.6L369.1 691.6L369.3 694.6L369.6 697.6L369.8 700.6L370 703.6L370.2 706.6L370.5 709.6L370.7 712.6L370.9 715.6L371.1 718.6L371.4 721.5L371.6 724.5L371.8 727.5L372.1 730.5L372.3 733.5L372.5 736.5L372.8 739.5L373 742.5L373.2 745.5L373.5 748.5L373.7 751.5L374 754.5L374.2 757.5L374.4 760.5L374.7 763.5L374.9 766.4L375.2 769.4L375.4 772.4L375.6 775.4L375.9 778.4L376.1 781.4L376.4 784.4L376.6 787.4L376.9 790.4L377.1 793.4L377.4 796.4L377.6 799.4L377.9 802.4L378.2 805.3L378.4 808.3L378.7 811.3L378.9 814.3L379.2 817.3L379.4 820.3L379.7 823.3L380 826.3L380.2 829.3L380.5 832.3L380.8 835.2L381 838.2L381.3 841.2L381.6 844.2L381.8 847.2L382.1 850.2L382.4 853.2L382.7 856.2L382.9 859.2L383.2 862.2L383.5 865.1L383.8 868.1L384.1 871.1L384.3 874.1L384.6 877.1L384.9 880.1L385.2 883.1L385.5 886.1L385.8 889L386.1 892L386.4 895L386.7 898L386.9 901L387.2 904L387.5 907L387.8 910L388.1 912.9L388.4 915.9L388.7 918.9L389.1 921.9L389.4 924.9L389.7 927.9L390 930.9L390.3 933.8L390.6 936.8L390.9 939.8L391.2 942.8L391.6 945.8L391.9 948.8L392.2 951.7L392.5 954.7L392.8 957.7L393.2 960.7L393.5 963.7L393.8 966.7L394.2 969.6L394.5 972.6L394.8 975.6L395.2 978.6L395.5 981.6L395.8 984.6L396.2 987.5L396.5 990.5L396.9 993.5L397.2 996.5L397.6 999.5L397.9 1002.5L398.3 1005.4L398.6 1008.4L399 1011.4L399.3 1014.4L399.7 1017.4L400.1 1020.3L400.4 1023.3L400.8 1026.3L401.2 1029.3L401.5 1032.3L401.9 1035.2L402.3 1038.2L402.7 1041.2L403 1044.2L403.4 1047.1L403.8 1050.1L404.2 1053.1L404.6 1056.1L405 1059.1L405.3 1062L405.7 1065L406.1 1068L406.5 1071L406.9 1073.9L407.3 1076.9L407.7 1079.9L408.1 1082.9L408.5 1085.8L409 1088.8L409.4 1091.8L409.8 1094.8L410.2 1097.7L410.6 1100.7L411 1103.7L411.5 1106.7L411.9 1109.6L412.3 1112.6L412.7 1115.6L413.2 1118.6L413.6 1121.5L414.1 1124.5L414.5 1127.5L414.9 1130.5L415.4 1133.4L415.8 1136.4L416.3 1139.4L416.7 1142.3L417.2 1145.3L417.6 1148.3L418.1 1151.3L418.6 1154.2L419 1157.2L419.5 1160.2L420 1163.1L420.4 1166.1L420.9 1169.1L421.4 1172L421.9 1175L422.3 1178L422.8 1180.9L423.3 1183.9L423.8 1186.9L424.3 1189.8L424.8 1192.8L425.3 1195.8L425.8 1198.7L426.3 1201.7L426.8 1204.7L427.3 1207.6L427.8 1210.6L428.3 1213.6L428.8 1216.5L429.4 1219.5L429.9 1222.4L430.4 1225.4L430.9 1228.4L431.5 1231.3L432 1234.3L432.5 1237.2L433.1 1240.2L433.6 1243.2L434.2 1246.1L434.7 1249.1L435.3 1252L435.8 1255L436.4 1257.9L436.9 1260.9L437.5 1263.8L438.1 1266.8L438.6 1269.7L439.2 1272.7L439.8 1275.6L440.4 1278.6L440.9 1281.5L441.5 1284.5L442.1 1287.4L442.7 1290.4L443.3 1293.3L443.9 1296.3L444.5 1299.2L445.1 1302.2L445.7 1305.1L446.3 1308L446.9 1311L447.6 1313.9L448.2 1316.9L448.8 1319.8L449.4 1322.7L450.1 1325.7L450.7 1328.6L451.3 1331.6L452 1334.5L452.6 1337.4L453.3 1340.4L453.9 1343.3L454.6 1346.2L455.2 1349.1L455.9 1352.1L456.6 1355L457.2 1357.9L457.9 1360.9L458.6 1363.8L459.3 1366.7L460 1369.6L460.6 1372.6L461.3 1375.5L462 1378.4L462.7 1381.3L463.4 1384.2L464.1 1387.1L464.8 1390.1L465.6 1393L466.3 1395.9L467 1398.8L467.7 1401.7L468.5 1404.6L469.2 1407.5L469.9 1410.4L470.7 1413.3L471.4 1416.2L472.2 1419.2L472.9 1422.1L473.7 1425L474.4 1427.9L475.2 1430.8L476 1433.7L476.7 1436.6L477.5 1439.4L478.3 1442.3L479.1 1445.2L479.9 1448.1L480.7 1451L481.5 1453.9L482.3 1456.8L483.1 1459.7L483.9 1462.6L484.7 1465.4L485.5 1468.3L486.3 1471.2L487.2 1474.1L488 1477L488.8 1479.8L489.7 1482.7L490.5 1485.6L491.3 1488.5L492.2 1491.3L493.1 1494.2L493.9 1497.1L494.8 1499.9L495.7 1502.8L496.5 1505.7L497.4 1508.5L498.3 1511.4L499.2 1514.2L500.1 1517.1L501 1520L501.9 1522.8L502.8 1525.7L503.7 1528.5L504.6 1531.4L505.5 1534.2L506.4 1537.1L507.4 1539.9L508.3 1542.7L509.2 1545.6L510.2 1548.4L511.1 1551.3L512.1 1554.1L513 1556.9L514 1559.8L514.9 1562.6L515.9 1565.4L516.9 1568.3L517.9 1571.1L518.9 1573.9L519.9 1576.7L520.9 1579.5L521.9 1582.4L522.9 1585.2L524 1588L525.1 1590.8L526.2 1593.6L527.3 1596.4L528.5 1599.2L529.7 1602L530.9 1604.7L532.2 1607.5L533.5 1610.3L534.8 1613.1L536.2 1615.8L537.6 1618.6L539.1 1621.3L540.6 1624L542.3 1626.6L543.9 1629.2L545.7 1631.7L547.6 1634.1L549.5 1636.4L551.5 1638.6L553.7 1640.7L555.9 1642.5L558.3 1644.3L560.8 1645.8L563.5 1647.1L566.2 1648.2L569.1 1649.2L572 1649.9L575 1650.4L578 1650.8L581 1650.9L584 1650.9L587 1650.6L589.9 1650.2L592.7 1649.6L595.5 1648.8L598.2 1647.8L600.8 1646.7L603.4 1645.5L606 1644.2L608.6 1642.8L611.1 1641.4L613.7 1639.9L616.4 1638.5L619 1637L621.7 1635.6L624.4 1634.1L627.2 1632.7L629.9 1631.3L632.7 1629.9L635.5 1628.5L638.3 1627.1L641.2 1625.8L644 1624.5L646.9 1623.2L649.8 1622L652.7 1620.8L655.6 1619.6L658.5 1618.6L661.4 1617.5L664.3 1616.6L667.3 1615.6L670.2 1614.8L673.1 1614L676.1 1613.3L679 1612.7L681.9 1612.2L684.9 1611.8L687.8 1611.4L690.7 1611.1L693.6 1611L696.5 1610.9L699.4 1611L702.2 1611.1L705.1 1611.4L707.9 1611.8L710.8 1612.3L713.6 1612.8L716.4 1613.5L719.1 1614.3L721.9 1615.1L724.6 1616.1L727.4 1617.1L730.1 1618.2L732.8 1619.4L735.5 1620.7L738.1 1622L740.8 1623.4L743.4 1624.9L746 1626.4L748.6 1628L751.1 1629.7L753.7 1631.4L756.2 1633.2L758.7 1635L761.1 1636.8L763.6 1638.7L766 1640.7L768.4 1642.7L770.8 1644.7L773.2 1646.7L775.5 1648.8L777.8 1650.9L780.1 1653L782.4 1655.1L784.6 1657.2L786.8 1659.4L789 1661.6L791.2 1663.8L793.4 1665.9L795.5 1668.1L797.6 1670.3L799.7 1672.5L801.8 1674.7L803.8 1676.9L805.9 1679.2L808 1681.4L810 1683.6L812 1685.7L814.1 1687.9L816.1 1690.1L818.2 1692.3L820.2 1694.4L822.2 1696.6L824.3 1698.7L826.4 1700.9L828.4 1703L830.5 1705L832.6 1707.1L834.7 1709.1L836.8 1711.2L839 1713.2L841.1 1715.1L843.3 1717.1L845.5 1719L847.8 1720.9L850 1722.8L852.3 1724.6L854.7 1726.4L857 1728.1L859.4 1729.9L861.8 1731.5L864.3 1733.2L866.8 1734.8L869.3 1736.4L871.9 1737.9L874.5 1739.4L877.1 1740.9L879.7 1742.3L882.4 1743.7L885.1 1745L887.8 1746.3L890.6 1747.6L893.3 1748.9L896.1 1750.1L898.9 1751.3L901.7 1752.4L904.6 1753.5L907.4 1754.6L910.3 1755.6L913.1 1756.7L916 1757.6L918.9 1758.6L921.8 1759.5L924.7 1760.4L927.6 1761.2L930.5 1762.1L933.4 1762.9L936.4 1763.6L939.3 1764.4L942.2 1765.1L945.2 1765.7L948.1 1766.4L951 1767L954 1767.6L956.9 1768.2L959.9 1768.7L962.8 1769.3L965.8 1769.8L968.7 1770.3L971.7 1770.7L974.7 1771.2L977.6 1771.6L980.6 1772L983.6 1772.4L986.5 1772.7L989.5 1773.1L992.5 1773.4L995.5 1773.7L998.5 1774L1001.4 1774.3L1004.4 1774.6L1007.4 1774.8L1010.4 1775.1L1013.4 1775.3L1016.4 1775.5L1019.4 1775.7L1022.4 1775.9L1025.4 1776.1L1028.3 1776.3L1031.3 1776.4L1034.3 1776.6L1037.3 1776.8L1040.3 1776.9L1043.3 1777L1046.3 1777.2L1049.3 1777.3L1052.3 1777.4L1055.3 1777.6L1058.3 1777.7L1061.3 1777.8L1064.3 1777.9L1067.3 1778.1L1070.3 1778.2L1073.4 1778.3L1076.4 1778.4L1079.4 1778.5L1082.4 1778.7L1085.4 1778.8L1088.4 1778.9L1091.4 1779L1094.4 1779.1L1097.4 1779.2L1100.4 1779.3L1103.4 1779.4L1106.4 1779.5L1109.4 1779.6L1112.4 1779.7L1115.4 1779.8L1118.4 1779.9L1121.4 1780L1124.4 1780.1L1127.4 1780.2L1130.4 1780.3L1133.4 1780.4L1136.4 1780.5L1139.4 1780.6L1142.4 1780.7L1145.4 1780.8L1148.4 1780.9L1151.4 1781L1154.4 1781.1L1157.4 1781.2L1160.4 1781.3L1163.4 1781.3L1166.4 1781.4L1169.4 1781.5L1172.4 1781.6L1175.4 1781.7L1178.4 1781.8L1181.4 1781.8L1184.4 1781.9L1187.4 1782L1190.4 1782.1L1193.4 1782.2L1196.4 1782.2L1199.4 1782.3L1202.4 1782.4L1205.4 1782.5L1208.4 1782.5L1211.4 1782.6L1214.4 1782.7L1217.4 1782.8L1220.4 1782.8L1223.4 1782.9L1226.4 1783L1229.5 1783L1232.5 1783.1L1235.5 1783.2L1238.5 1783.2L1241.5 1783.3L1244.5 1783.4L1247.5 1783.4L1250.5 1783.5L1253.5 1783.6L1256.5 1783.6L1259.5 1783.7L1262.5 1783.8L1265.5 1783.8L1268.5 1783.9L1271.5 1784L1274.5 1784L1277.5 1784.1L1280.5 1784.1L1283.5 1784.2L1286.5 1784.3L1289.5 1784.3L1292.5 1784.4L1295.5 1784.4L1298.5 1784.5L1301.5 1784.5L1304.5 1784.6L1307.5 1784.7L1310.5 1784.7L1313.5 1784.8L1316.5 1784.8L1319.5 1784.9L1322.5 1784.9L1325.5 1785L1328.5 1785L1331.5 1785.1L1334.5 1785.1L1337.5 1785.2L1340.5 1785.2L1343.5 1785.3L1346.6 1785.3L1349.6 1785.4L1352.6 1785.4L1355.6 1785.5L1358.6 1785.5L1361.6 1785.6L1364.6 1785.6L1367.6 1785.7L1370.6 1785.7L1373.6 1785.8L1376.6 1785.8L1379.6 1785.9L1382.6 1785.9L1385.6 1786L1388.6 1786L1391.6 1786.1L1394.6 1786.1L1397.6 1786.1L1400.6 1786.2L1403.6 1786.2L1406.6 1786.3L1409.6 1786.3L1412.6 1786.4L1415.6 1786.4L1418.6 1786.4L1421.6 1786.5L1424.6 1786.5L1427.6 1786.6L1430.6 1786.6L1433.6 1786.6L1436.6 1786.7L1439.6 1786.7L1442.6 1786.8L1445.6 1786.8L1448.6 1786.8L1451.6 1786.9L1454.6 1786.9L1457.7 1786.9L1460.7 1787L1463.7 1787L1466.7 1787.1L1469.7 1787.1L1472.7 1787.1L1475.7 1787.2L1478.7 1787.2L1481.7 1787.2L1484.7 1787.3L1487.7 1787.3L1490.7 1787.3L1493.7 1787.4L1496.7 1787.4L1499.7 1787.4L1502.7 1787.5L1505.7 1787.5L1508.7 1787.5L1511.7 1787.5L1514.7 1787.6L1517.7 1787.6L1520.7 1787.6L1523.7 1787.7L1526.7 1787.7L1529.7 1787.7L1532.7 1787.7L1535.7 1787.8L1538.7 1787.8L1541.7 1787.8L1544.7 1787.9L1547.7 1787.9L1550.7 1787.9L1553.7 1787.9L1556.7 1788L1559.8 1788L1562.8 1788L1565.8 1788L1568.8 1788.1L1571.8 1788.1L1574.8 1788.1L1577.8 1788.1L1580.8 1788.1L1583.8 1788.2L1586.8 1788.2L1589.8 1788.2L1592.8 1788.2L1595.8 1788.3L1598.8 1788.3L1601.8 1788.3L1604.8 1788.3L1607.8 1788.3L1610.8 1788.4L1613.8 1788.4L1616.8 1788.4L1619.8 1788.4L1622.8 1788.4L1625.8 1788.4L1628.8 1788.5L1631.8 1788.5L1634.8 1788.5L1637.8 1788.5L1640.8 1788.5L1643.8 1788.6L1646.8 1788.6L1649.8 1788.6L1652.8 1788.6L1655.8 1788.6L1658.9 1788.6L1661.9 1788.6L1664.9 1788.7L1667.9 1788.7L1670.9 1788.7L1673.9 1788.7L1676.9 1788.7L1679.9 1788.7L1682.9 1788.7L1685.9 1788.7L1688.9 1788.8L1691.9 1788.8L1694.9 1788.8L1697.9 1788.8L1700.9 1788.8L1703.9 1788.8L1706.9 1788.8L1709.9 1788.8L1712.9 1788.8L1715.9 1788.9L1718.9 1788.9L1721.9 1788.9L1724.9 1788.9L1727.9 1788.9L1730.9 1788.9L1733.9 1788.9L1736.9 1788.9L1739.9 1788.9L1742.9 1788.9L1745.9 1788.9L1748.9 1788.9L1751.9 1788.9L1755 1788.9L1758 1789L1761 1789L1764 1789L1767 1789L1770 1789L1773 1789L1776 1789L1779 1789L1782 1789L1785 1789L1788 1789L1791 1789L1794 1789L1797 1789L1800 1789L2301.5 1789" fill="none" stroke="#ff00ff" stroke-width="8.5" stroke-linejoin="round" stroke-linecap="round" clip-path="url(#c)"/>
<line x1="691.2" y1="262" x2="691.2" y2="1797" stroke="#000" stroke-width="2.2" stroke-dasharray="9.5 11.2"/>
<g font-family="'Liberation Sans', Arial, sans-serif" font-size="58.5" fill="#000">
<text x="281.5" y="233.6" text-anchor="end">3.0</text>
<text x="281.5" y="495.2" text-anchor="end">2.5</text>
<text x="281.5" y="756.7" text-anchor="end">2.0</text>
<text x="281.5" y="1018.3" text-anchor="end">1.5</text>
<text x="281.5" y="1279.8" text-anchor="end">1.0</text>
<text x="281.5" y="1541.4" text-anchor="end">0.5</text>
<text x="281.5" y="1803.0" text-anchor="end">0.0</text>
<text x="369" y="1898.5" text-anchor="middle" font-size="59">200</text>
<text x="690.6" y="1898.5" text-anchor="middle" font-size="59">300</text>
<text x="1012.2" y="1898.5" text-anchor="middle" font-size="59">400</text>
<text x="1333.8" y="1898.5" text-anchor="middle" font-size="59">500</text>
<text x="1655.4" y="1898.5" text-anchor="middle" font-size="59">600</text>
<text x="1977" y="1898.5" text-anchor="middle" font-size="59">700</text>
<text x="2298.6" y="1898.5" text-anchor="middle" font-size="59">800</text>
</g>
<rect x="546.5" y="30.5" width="894.8" height="216" fill="#fff" stroke="#000" stroke-width="3"/>
<g font-family="'Liberation Serif', 'Times New Roman', serif" fill="#000">
<text transform="translate(646 159) scale(1.1 1)" font-size="79">λ</text>
<text x="689" y="192" font-size="48" letter-spacing="4">max</text>
<text transform="translate(797 151.5) scale(1.21 0.75)" font-size="86" stroke="#000" stroke-width="0.8">=</text>
<text x="872" y="159" font-size="88">297</text>
<text transform="translate(1025 159) scale(1.16 1)" font-size="88" font-weight="bold">–</text>
<text x="1079" y="159" font-size="88">300</text>
<text x="1235" y="157.5" font-size="73" letter-spacing="2.3">(nm)</text>
<text x="1021" y="2038" font-size="73" letter-spacing="0.25" style="font-kerning:none">Wavelength</text>
<text transform="translate(1398 2038) scale(1.2 1)" font-size="63">λ</text>
<text x="1454" y="2038" font-size="73" letter-spacing="0.8">(nm)</text>
<text transform="translate(89.5 1309.5) rotate(-90) scale(0.962 1)" font-size="79">Optical Density D (a.u.)</text>
</g>
</svg>
</body></html>
